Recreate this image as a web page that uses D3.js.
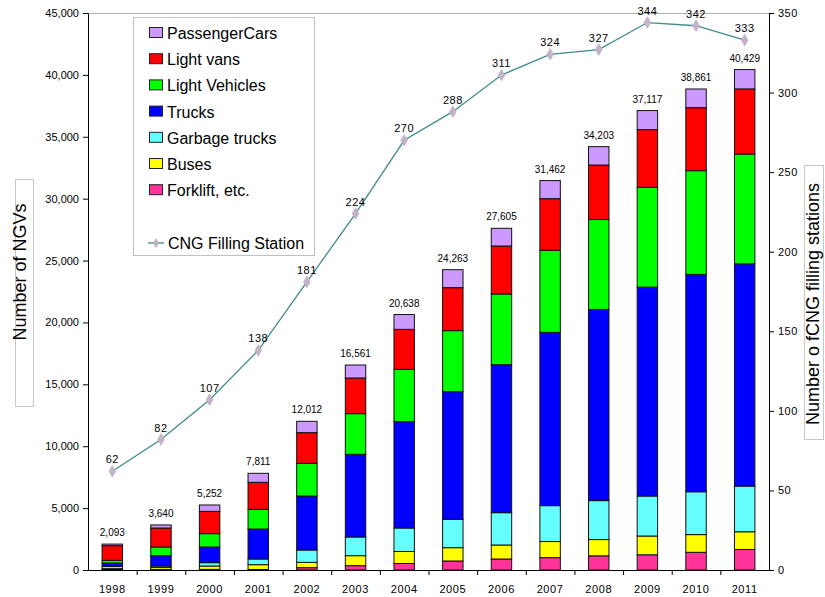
<!DOCTYPE html>
<html>
<head>
<meta charset="utf-8">
<script src="https://cdn.jsdelivr.net/npm/d3@7"></script>
<style>
  html, body { margin: 0; padding: 0; background: #fff; }
  svg { display: block; font-family: "Liberation Sans", Arial, sans-serif; }
</style>
</head>
<body>
<svg id="chart" width="825" height="597"></svg>
<script>
// ---------------- DATA ----------------
const years = ["1998","1999","2000","2001","2002","2003","2004","2005","2006","2007","2008","2009","2010","2011"];
const forklift      = [40, 50, 50, 40, 189, 350, 525, 727, 889, 1000, 1144, 1230, 1430, 1659];
const buses         = [68, 165, 273, 391, 430, 808, 970, 1077, 1131, 1300, 1316, 1516, 1430, 1430];
const garbageTrucks = [188, 108, 269, 458, 997, 1508, 1898, 2289, 2612, 2900, 3146, 3231, 3461, 3689];
const trucks        = [269, 835, 1266, 2423, 4362, 6679, 8591, 10315, 11957, 14000, 15444, 16874, 17560, 17961];
const lightVehicles = [216, 700, 1077, 1589, 2640, 3285, 4228, 4928, 5709, 6630, 7264, 8066, 8380, 8866];
const lightVans     = [1185, 1535, 1805, 2182, 2477, 2882, 3231, 3474, 3878, 4170, 4404, 4661, 5091, 5262];
const passengerCars = [127, 247, 512, 728, 917, 1049, 1195, 1453, 1429, 1462, 1485, 1539, 1509, 1562];
const totals        = [2093, 3640, 5252, 7811, 12012, 16561, 20638, 24263, 27605, 31462, 34203, 37117, 38861, 40429];
const stations      = [62, 82, 107, 138, 181, 224, 270, 288, 311, 324, 327, 344, 342, 333];

const leftTicks  = [0, 5000, 10000, 15000, 20000, 25000, 30000, 35000, 40000, 45000];
const rightTicks = [0, 50, 100, 150, 200, 250, 300, 350];

const seriesKeys   = ["forklift", "buses", "garbage", "trucks", "lightVehicles", "lightVans", "passenger"];
const seriesNames  = {forklift: "Forklift, etc.", buses: "Buses", garbage: "Garbage trucks", trucks: "Trucks",
                      lightVehicles: "Light Vehicles", lightVans: "Light vans", passenger: "PassengerCars"};
const seriesColors = {forklift: "#ff3399", buses: "#ffff00", garbage: "#66ffff", trucks: "#0000ff",
                      lightVehicles: "#00ff00", lightVans: "#ff0000", passenger: "#cc99ff"};
const legendOrder  = ["passenger", "lightVans", "lightVehicles", "trucks", "garbage", "buses", "forklift"];
const lineName = "CNG Filling Station";

// ---------------- BUILD ----------------
const rows = years.map((y, i) => ({
  year: y, forklift: forklift[i], buses: buses[i], garbage: garbageTrucks[i], trucks: trucks[i],
  lightVehicles: lightVehicles[i], lightVans: lightVans[i], passenger: passengerCars[i],
  total: totals[i], stations: stations[i]
}));

const svg = d3.select("#chart");
const L = 88, R = 769, T = 13, B = 570;

const x = d3.scaleBand().domain(years).range([L, R]).paddingInner(0.58).paddingOuter(0.29);
const yL = d3.scaleLinear().domain([0, 45000]).range([B, T]);
const yR = d3.scaleLinear().domain([0, 350]).range([B, T]);

// plot top border
svg.append("line").attr("x1", L).attr("x2", R).attr("y1", T + 0.5).attr("y2", T + 0.5)
  .attr("stroke", "#b0b0b0").attr("stroke-width", 1);

// stacked bars
const stack = d3.stack().keys(seriesKeys)(rows);
svg.append("g").selectAll("g").data(stack).join("g")
  .attr("fill", d => seriesColors[d.key])
  .selectAll("rect").data(d => d).join("rect")
  .attr("x", d => x(d.data.year))
  .attr("width", x.bandwidth())
  .attr("y", d => yL(d[1]))
  .attr("height", d => Math.max(0, yL(d[0]) - yL(d[1])))
  .attr("stroke", "#111").attr("stroke-width", 1);

// total labels
svg.append("g").selectAll("text").data(rows).join("text")
  .attr("x", d => x(d.year) + x.bandwidth() / 2)
  .attr("y", d => yL(d.total) - 8)
  .attr("text-anchor", "middle")
  .attr("font-size", 10).attr("fill", "#000")
  .text(d => d3.format(",")(d.total));

// line
const cx = d => x(d.year) + x.bandwidth() / 2;
svg.append("path").datum(rows)
  .attr("fill", "none").attr("stroke", "#3f8a8a").attr("stroke-width", 1.3)
  .attr("d", d3.line().x(cx).y(d => yR(d.stations)));
const diamond = d3.symbol().type(d3.symbolDiamond).size(40);
svg.append("g").selectAll("path").data(rows).join("path")
  .attr("transform", d => `translate(${cx(d)},${yR(d.stations)})`)
  .attr("d", diamond).attr("fill", "#c4b2c6").attr("stroke", "#b8a6ba").attr("stroke-width", 0.5);
svg.append("g").selectAll("text").data(rows).join("text")
  .attr("x", cx).attr("y", d => yR(d.stations) - 8)
  .attr("text-anchor", "middle").attr("font-size", 11).attr("letter-spacing", 0.5)
  .text(d => d.stations);

// left axis
const axL = svg.append("g").attr("transform", `translate(${L},0)`)
  .call(d3.axisLeft(yL).tickValues(leftTicks).tickFormat(d3.format(",")).tickSize(5).tickSizeOuter(0));
axL.selectAll("text").attr("font-size", 11).attr("font-family", "Liberation Sans, Arial, sans-serif").attr("fill", "#000").attr("x", -9);
axL.selectAll("line, path").attr("stroke", "#000");

// right axis
const axR = svg.append("g").attr("transform", `translate(${R},0)`)
  .call(d3.axisRight(yR).tickValues(rightTicks).tickSize(5).tickSizeOuter(0));
axR.selectAll("text").attr("font-size", 11).attr("font-family", "Liberation Sans, Arial, sans-serif").attr("fill", "#000").attr("x", 9).attr("letter-spacing", 0.5);
axR.selectAll("line, path").attr("stroke", "#000");

// bottom axis
const gx = svg.append("g");
gx.append("line").attr("x1", L).attr("x2", R).attr("y1", B + 0.5).attr("y2", B + 0.5).attr("stroke", "#000");
const step = x.step();
gx.selectAll("line.tk").data(years.slice(1)).join("line").attr("class", "tk")
  .attr("x1", d => x(d) - x.bandwidth() * 0 - (step - x.bandwidth()) / 2 + 0.5)
  .attr("x2", d => x(d) - (step - x.bandwidth()) / 2 + 0.5)
  .attr("y1", B).attr("y2", B + 5).attr("stroke", "#000");
gx.selectAll("text").data(years).join("text")
  .attr("x", d => x(d) + x.bandwidth() / 2).attr("y", 593)
  .attr("text-anchor", "middle").attr("font-size", 11).attr("letter-spacing", 0.6)
  .text(d => d);

// axis titles
svg.append("rect").attr("x", 15.5).attr("y", 179.5).attr("width", 18).attr("height", 227)
  .attr("fill", "none").attr("stroke", "#c8c8c8");
svg.append("text").attr("transform", "translate(26,272) rotate(-90)")
  .attr("text-anchor", "middle").attr("font-size", 18).text("Number of NGVs");
svg.append("rect").attr("x", 804.5).attr("y", 165.5).attr("width", 19).attr("height", 274)
  .attr("fill", "none").attr("stroke", "#c8c8c8");
svg.append("text").attr("transform", "translate(819,304) rotate(-90)")
  .attr("text-anchor", "middle").attr("font-size", 18).text("Number o fCNG filling stations");

// legend
const lg = svg.append("g");
lg.append("rect").attr("x", 133.5).attr("y", 17.5).attr("width", 181).attr("height", 238)
  .attr("fill", "#fff").attr("stroke", "#c0c0c0");
const rowY = i => 33 + i * 26.2;
legendOrder.forEach((k, i) => {
  lg.append("rect").attr("x", 149.5).attr("y", rowY(i) - 5.5).attr("width", 13).attr("height", 10)
    .attr("fill", seriesColors[k]).attr("stroke", "#222");
  lg.append("text").attr("x", 167).attr("y", rowY(i) + 6).attr("font-size", 16).text(seriesNames[k]);
});
const ly = 243;
lg.append("line").attr("x1", 148).attr("x2", 164).attr("y1", ly).attr("y2", ly).attr("stroke", "#3f8a8a").attr("stroke-width", 1.3);
lg.append("path").attr("transform", `translate(156,${ly})`).attr("d", d3.symbol().type(d3.symbolDiamond).size(30))
  .attr("fill", "#c4b2c6");
lg.append("text").attr("x", 168).attr("y", ly + 6).attr("font-size", 16).text(lineName);
</script>
</body>
</html>
